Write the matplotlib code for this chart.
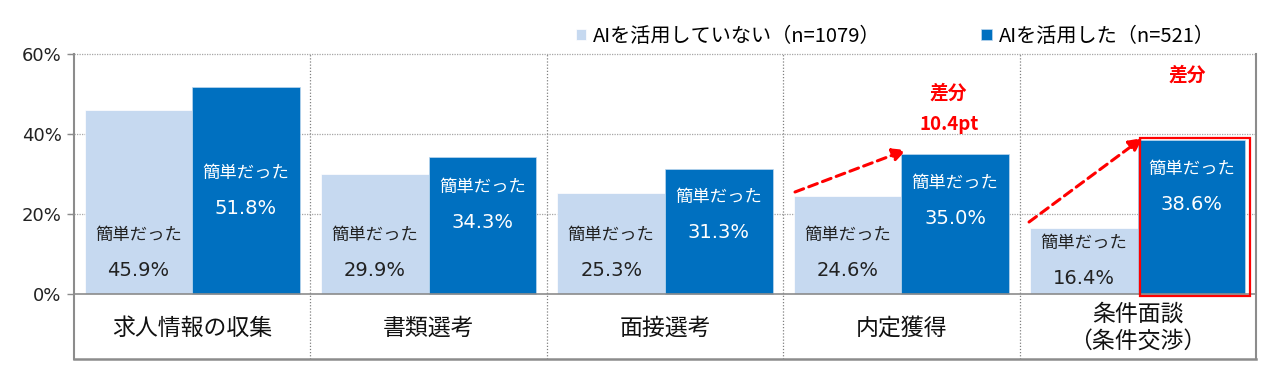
import matplotlib.pyplot as plt
from matplotlib.patches import Rectangle
import numpy as np

plt.rcParams['font.family'] = ['Noto Sans CJK JP', 'DejaVu Sans']
plt.rcParams['axes.unicode_minus'] = False

categories = ["求人情報の収集", "書類選考", "面接選考", "内定獲得", "条件面談\n（条件交渉）"]
no_ai = [45.9, 29.9, 25.3, 24.6, 16.4]
with_ai = [51.8, 34.3, 31.3, 35.0, 38.6]
series_names = ["AIを活用していない（n=1079）", "AIを活用した（n=521）"]
bar_word = "簡単だった"

light = "#C6D9F0"
dark = "#0070C0"
grid_c = "#A6A6A6"
frame_c = "#8C8C8C"

# label heights (data units), placed by hand like the original
light_word_y = [14.75, 14.75, 14.75, 14.75, 12.75]
light_val_y = [6.0, 6.0, 6.0, 6.0, 4.0]
dark_word_y = [30.25, 26.75, 24.25, 27.75, 31.25]
dark_val_y = [21.25, 18.0, 15.25, 18.75, 22.5]

table_h = 16.25
num_font = ['DejaVu Sans']

fig = plt.figure(figsize=(12.8, 3.82), dpi=100)
ax = fig.add_axes([74 / 1280, 23 / 382, (1256 - 74) / 1280, (359 - 54) / 382])

x = np.arange(len(categories))
w = 0.455

b1 = ax.bar(x - w / 2, no_ai, w, color=light, edgecolor="white", linewidth=0.5,
            label=series_names[0], zorder=3)
b2 = ax.bar(x + w / 2, with_ai, w, color=dark, edgecolor="#BDD7EE", linewidth=0.5,
            label=series_names[1], zorder=3)

ax.set_xlim(-0.5, len(categories) - 0.5)
ax.set_ylim(-table_h, 60)

# gridlines
for g in [20, 40, 60]:
    ax.plot([-0.52, len(categories) - 0.5], [g, g], color=grid_c, ls=(0, (1, 1)),
            lw=0.9, zorder=1, clip_on=False)
for b in np.arange(0.5, len(categories) - 0.5, 1):
    ax.plot([b, b], [-table_h, 60], color="#808080", ls=(0, (1, 1.5)), lw=0.9, zorder=1)

# table frame
ax.plot([-0.5, len(categories) - 0.5], [0, 0], color=frame_c, lw=1.2, zorder=4)
ax.plot([-0.5, len(categories) - 0.5], [-table_h, -table_h], color=frame_c, lw=1.8, zorder=4,
        clip_on=False)

for s in ["top", "bottom"]:
    ax.spines[s].set_visible(False)
for s in ["left", "right"]:
    ax.spines[s].set_color(frame_c)
    ax.spines[s].set_linewidth(1.5)

ax.set_yticks([0, 20, 40, 60])
ax.set_yticklabels(["0%", "20%", "40%", "60%"], fontsize=13, color="#222222",
                   family=num_font)
ax.tick_params(axis="y", length=5, color=frame_c, width=1, pad=4)
ax.set_xticks([])

for i, cat in enumerate(categories):
    ax.text(i, -8.5, cat, ha="center", va="center", fontsize=16.5,
            color="#111111", linespacing=1.2)
    ax.text(i - w / 2, light_word_y[i], bar_word, ha="center", va="center",
            fontsize=12.5, color="#222222", zorder=5)
    ax.text(i - w / 2, light_val_y[i], f"{no_ai[i]:.1f}%", ha="center", va="center",
            fontsize=14, color="#222222", zorder=5, family=num_font)
    ax.text(i + w / 2, dark_word_y[i], bar_word, ha="center", va="center",
            fontsize=12.5, color="white", zorder=5)
    ax.text(i + w / 2, dark_val_y[i], f"{with_ai[i]:.1f}%", ha="center", va="center",
            fontsize=14, color="white", zorder=5, family=num_font)

# highlight last blue bar
last = len(categories) - 1
ax.add_patch(Rectangle((last + 0.01, -0.4), w + 0.01, with_ai[last] + 0.9,
                       fill=False, edgecolor="#FF0000", lw=1.6, zorder=6))

# difference arrows
red = "#FF0000"
arrow_kw = dict(arrowstyle="-|>,head_length=0.8,head_width=0.4", color=red,
                lw=2.2, ls=(0, (3, 1.8)), shrinkA=0, shrinkB=0)
ax.annotate("", xy=(3.02, 36.0), xytext=(2.55, 25.5), arrowprops=arrow_kw, zorder=7)
ax.annotate("", xy=(4.02, 39.0), xytext=(3.54, 18.0), arrowprops=arrow_kw, zorder=7)

ax.text(3.2, 50.25, "差分", ha="center", va="center", fontsize=13.5,
        fontweight="bold", color=red)
ax.text(3.2, 42.25, "10.4pt", ha="center", va="center", fontsize=13.5,
        fontweight="bold", color=red)
ax.text(4.21, 54.75, "差分", ha="center", va="center", fontsize=13.5,
        fontweight="bold", color=red)

ax.legend(handles=[b1, b2], loc="center left", bbox_to_anchor=(576 / 1280, 1 - 36 / 382),
          bbox_transform=fig.transFigure, ncol=2, frameon=False, fontsize=14.5,
          handlelength=0.5, handleheight=0.5, handletextpad=0.35, columnspacing=5.0,
          borderaxespad=0, borderpad=0)

fig.savefig("out.png", dpi=100)
